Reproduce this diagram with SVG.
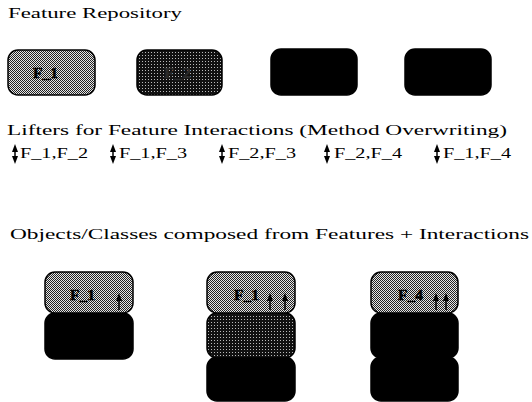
<svg xmlns="http://www.w3.org/2000/svg" width="532" height="402" viewBox="0 0 532 402">
<style>
text{font-family:"Liberation Serif","DejaVu Serif",serif;fill:#000}
.h{font-size:15.5px}
.l{font-size:14px}
.b{font-size:15px;font-weight:bold;stroke:#000;stroke-width:0.5}
.box{stroke:#000;stroke-width:1.5}
.dark{fill:url(#dk)}
.light{fill:url(#lt)}
.black{fill:#000}
.shaft{stroke:#000;stroke-width:1.5;fill:none}
.head{fill:#000;stroke:none}
</style>
<defs>
<pattern id="lt" width="2" height="2" patternUnits="userSpaceOnUse">
<rect width="2" height="2" fill="#e6e6e6"/>
<rect width="1" height="1" fill="#222"/>
<rect x="1" y="1" width="1" height="1" fill="#222"/>
</pattern>
<pattern id="dk" width="3" height="3" patternUnits="userSpaceOnUse">
<rect width="3" height="3" fill="#111"/>
<rect x="1" y="1" width="1" height="1" fill="#bbb"/>
</pattern>
<g id="dbl">
<path class="shaft" d="M0,4 V14"/>
<path class="head" d="M-3,7 L0,-1 L3,7 Z"/>
<path class="head" d="M-3,11 L0,19 L3,11 Z"/>
</g>
<g id="up">
<path class="shaft" d="M0,4 V16"/>
<path class="head" d="M-3,7 L0,-1 L3,7 Z"/>
</g>
</defs>

<text class="h" x="8" y="18" textLength="174" lengthAdjust="spacingAndGlyphs">Feature Repository</text>

<g id="feature1"><rect class="box light" x="8" y="50" width="87" height="45" rx="10"/><text class="b" x="33" y="78" textLength="25" lengthAdjust="spacingAndGlyphs">F_1</text></g>
<g id="feature2"><rect class="box dark" x="137" y="50" width="85" height="45" rx="10"/><text class="b" x="164" y="78" style="fill:#2a2a2a;stroke:#2a2a2a" textLength="27" lengthAdjust="spacingAndGlyphs">F_2</text></g>
<g id="feature3"><rect class="box black" x="271" y="49" width="86" height="46" rx="10"/></g>
<g id="feature4"><rect class="box black" x="405" y="49" width="86" height="46" rx="10"/></g>

<text class="h" x="7" y="135" textLength="500" lengthAdjust="spacingAndGlyphs">Lifters for Feature Interactions (Method Overwriting)</text>

<g id="connectors">
<use href="#dbl" x="15" y="145"/>
<use href="#dbl" x="113" y="145"/>
<use href="#dbl" x="222" y="145"/>
<use href="#dbl" x="327" y="145"/>
<use href="#dbl" x="437" y="145"/>
</g>
<g id="lifters">
<text class="l" x="20" y="158" textLength="68" lengthAdjust="spacingAndGlyphs">F_1,F_2</text>
<text class="l" x="119" y="158" textLength="68" lengthAdjust="spacingAndGlyphs">F_1,F_3</text>
<text class="l" x="228" y="158" textLength="68" lengthAdjust="spacingAndGlyphs">F_2,F_3</text>
<text class="l" x="334" y="158" textLength="68" lengthAdjust="spacingAndGlyphs">F_2,F_4</text>
<text class="l" x="443" y="158" textLength="68" lengthAdjust="spacingAndGlyphs">F_1,F_4</text>
</g>

<text class="h" x="10" y="239" textLength="519" lengthAdjust="spacingAndGlyphs">Objects/Classes composed from Features + Interactions</text>

<g id="object1">
<rect class="box black" x="45" y="313" width="88" height="46" rx="10"/>
<rect class="box light" x="45" y="272" width="88" height="41" rx="10"/>
<text class="b" x="70" y="300" textLength="25" lengthAdjust="spacingAndGlyphs">F_1</text>
<use href="#up" x="119" y="294"/>
</g>
<g id="object2">
<rect class="box black" x="207" y="357" width="88" height="44" rx="10"/>
<rect class="box dark" x="207" y="313" width="88" height="45" rx="10"/>
<rect class="box light" x="207" y="272" width="88" height="41" rx="10"/>
<text class="b" x="234" y="300" textLength="25" lengthAdjust="spacingAndGlyphs">F_1</text>
<use href="#up" x="270" y="294"/>
<use href="#up" x="285" y="294"/>
</g>
<g id="object3">
<rect class="box black" x="371" y="357" width="87" height="44" rx="10"/>
<rect class="box black" x="371" y="313" width="87" height="45" rx="10"/>
<rect class="box light" x="371" y="272" width="87" height="41" rx="10"/>
<text class="b" x="398" y="300" textLength="25" lengthAdjust="spacingAndGlyphs">F_4</text>
<use href="#up" x="436" y="294"/>
<use href="#up" x="446" y="294"/>
</g>
</svg>
